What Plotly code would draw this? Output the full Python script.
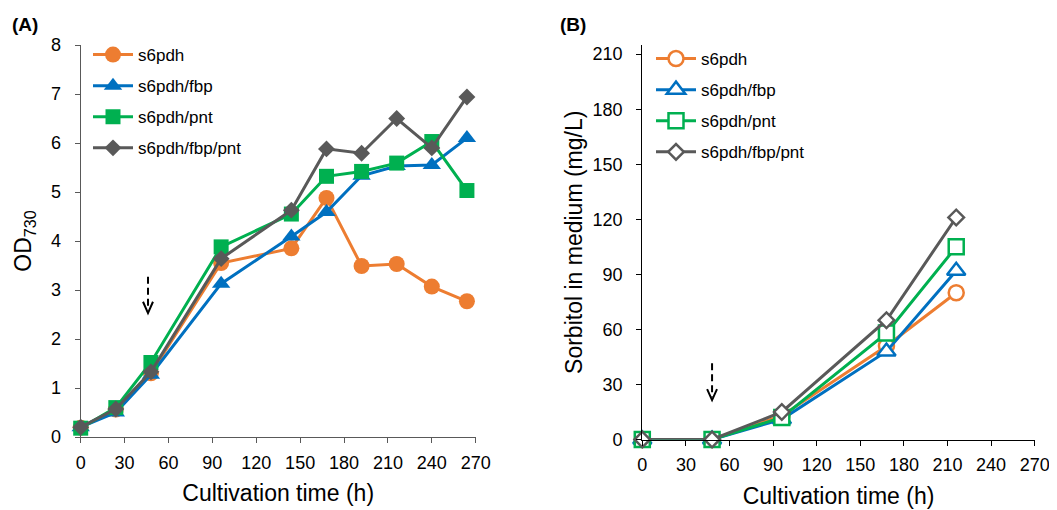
import plotly.graph_objects as go

# ---------------- data ----------------
series_names = ["s6pdh", "s6pdh/fbp", "s6pdh/pnt", "s6pdh/fbp/pnt"]
colors = ["#ED7D31", "#0070C0", "#00B050", "#595959"]

time_od = [0, 24, 48, 96, 144, 168, 192, 216, 240, 264]
od_s6pdh = [0.19, 0.56, 1.30, 3.55, 3.85, 4.88, 3.49, 3.53, 3.07, 2.77]
od_fbp = [0.20, 0.50, 1.27, 3.13, 4.09, 4.59, 5.33, 5.53, 5.55, 6.10]
od_pnt = [0.18, 0.60, 1.52, 3.88, 4.55, 5.32, 5.42, 5.59, 6.03, 5.03]
od_fbp_pnt = [0.20, 0.57, 1.33, 3.64, 4.63, 5.88, 5.79, 6.50, 5.90, 6.94]

time_sorb = [0, 48, 96, 168, 216]
sorb_s6pdh = [0, 0, 13, 51, 80]
sorb_fbp = [0, 0, 11, 48, 92]
sorb_pnt = [0, 0, 12, 58, 105]
sorb_fbp_pnt = [0, 0, 15, 65, 121]

x_ticks = [0, 30, 60, 90, 120, 150, 180, 210, 240, 270]
od_ticks = [0, 1, 2, 3, 4, 5, 6, 7, 8]
sorb_ticks = [0, 30, 60, 90, 120, 150, 180, 210]

od_series = [od_s6pdh, od_fbp, od_pnt, od_fbp_pnt]
sorb_series = [sorb_s6pdh, sorb_fbp, sorb_pnt, sorb_fbp_pnt]

# ---------------- styling ----------------
FONT = "Arial, Liberation Sans, sans-serif"
filled_symbols = ["circle", "triangle-up", "square", "diamond"]
filled_sizes = [16, 16, 15, 13]
open_sizes = [15, 16, 15, 12]

fig = go.Figure()

for i, name in enumerate(series_names):
    fig.add_trace(go.Scatter(
        x=time_od, y=od_series[i], name=name, mode="lines+markers",
        line=dict(color=colors[i], width=3),
        marker=dict(symbol=filled_symbols[i], size=filled_sizes[i], color=colors[i],
                    line=dict(width=0)),
        xaxis="x", yaxis="y", legend="legend", legendgroup="a%d" % i,
        cliponaxis=False,
    ))

for i, name in enumerate(series_names):
    fig.add_trace(go.Scatter(
        x=time_sorb, y=sorb_series[i], name=name, mode="lines+markers",
        line=dict(color=colors[i], width=3),
        marker=dict(symbol=filled_symbols[i], size=open_sizes[i], color="white",
                    line=dict(width=2.5, color=colors[i])),
        xaxis="x2", yaxis="y2", legend="legend2", legendgroup="b%d" % i,
        cliponaxis=False,
    ))

# page has an 8px body margin: figure starts at (8, 8) in the window
OFF = 8
W, H = 1057 - OFF, 510 - OFF

def px(p):
    return (p - OFF) / W

def py(p):
    return 1 - (p - OFF) / H

# plot areas in window pixels
L_x0, L_x1, L_y0, L_y1 = 80.7, 475.7, 45, 437
R_x0, R_x1, R_y0, R_y1 = 642.3, 1034.7, 45, 439.5

axis_common = dict(
    showgrid=False, zeroline=False, showline=True, linewidth=1.3,
    ticks="outside", ticklen=5, tickwidth=1.3, automargin=False,
    tickfont=dict(family=FONT, size=18, color="black"),
)

TITLE_FONT = dict(size=23, family=FONT, color="black")

fig.update_layout(
    width=W, height=H,
    margin=dict(l=0, r=0, t=0, b=0, autoexpand=False),
    paper_bgcolor="white", plot_bgcolor="white",
    font=dict(family=FONT, color="black"),
    xaxis=dict(domain=[px(L_x0), px(L_x1)], range=[0, 270], tickvals=x_ticks,
               linecolor="#595959", tickcolor="#595959", anchor="y",
               ticklabelstandoff=4,
               title=dict(text="Cultivation time (h)", font=TITLE_FONT, standoff=13),
               **axis_common),
    yaxis=dict(domain=[py(L_y1), py(L_y0)], range=[0, 8], tickvals=od_ticks,
               linecolor="#595959", tickcolor="#595959", anchor="x",
               ticklabelstandoff=10,
               title=dict(text="OD<sub>730</sub>", font=TITLE_FONT, standoff=12),
               **axis_common),
    xaxis2=dict(domain=[px(R_x0), px(R_x1)], range=[0, 270], tickvals=x_ticks,
                linecolor="black", tickcolor="black", anchor="y2",
                ticklabelstandoff=4,
                title=dict(text="Cultivation time (h)", font=TITLE_FONT, standoff=13),
                **axis_common),
    yaxis2=dict(domain=[py(R_y1), py(R_y0)], range=[0, 215], tickvals=sorb_ticks,
                linecolor="black", tickcolor="black", anchor="x2",
                ticklabelstandoff=10,
                title=dict(text="Sorbitol in medium (mg/L)", font=TITLE_FONT, standoff=3),
                **axis_common),
    legend=dict(x=px(88), y=py(37), xanchor="left", yanchor="top",
                bgcolor="rgba(0,0,0,0)", font=dict(size=17, family=FONT),
                tracegroupgap=6, itemwidth=40),
    legend2=dict(x=px(651), y=py(41), xanchor="left", yanchor="top",
                 bgcolor="rgba(0,0,0,0)", font=dict(size=17, family=FONT),
                 tracegroupgap=6, itemwidth=40),
    showlegend=True,
)

# panel labels
fig.add_annotation(text="<b>(A)</b>", x=px(10), y=py(25), xref="paper", yref="paper",
                   xanchor="left", yanchor="middle", showarrow=False,
                   font=dict(size=19, family=FONT, color="black"))
fig.add_annotation(text="<b>(B)</b>", x=px(558), y=py(25), xref="paper", yref="paper",
                   xanchor="left", yanchor="middle", showarrow=False,
                   font=dict(size=19, family=FONT, color="black"))

# induction arrows (dashed stem + open V head)
arrow_A = dict(x=46, top=3.27, tip=2.53, hw=3.4, hh=0.23)
arrow_B = dict(x=48, top=41.5, tip=21.5, hw=3.4, hh=6.0)
for arr, xr, yr in [(arrow_A, "x", "y"), (arrow_B, "x2", "y2")]:
    fig.add_shape(type="line", xref=xr, yref=yr, x0=arr["x"], x1=arr["x"],
                  y0=arr["top"], y1=arr["tip"] + arr["hh"] * 0.3,
                  line=dict(color="black", width=2, dash="7px,4px"))
    fig.add_shape(type="path", xref=xr, yref=yr,
                  path="M %f,%f L %f,%f L %f,%f" % (
                      arr["x"] - arr["hw"], arr["tip"] + arr["hh"],
                      arr["x"], arr["tip"],
                      arr["x"] + arr["hw"], arr["tip"] + arr["hh"]),
                  line=dict(color="black", width=2))

fig.write_html("out.html")
